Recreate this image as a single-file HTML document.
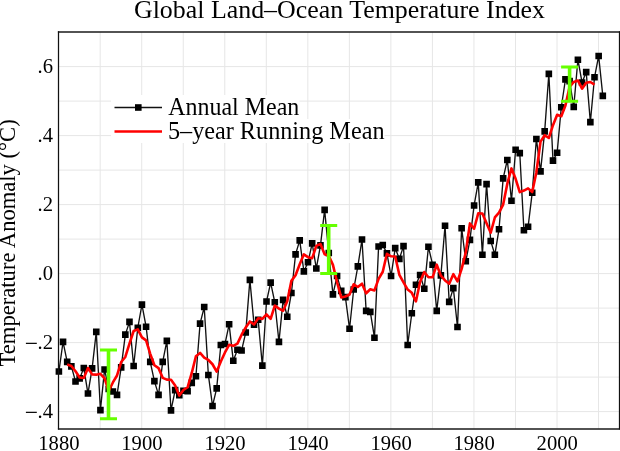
<!DOCTYPE html>
<html><head><meta charset="utf-8"><style>
html,body{margin:0;padding:0;background:#fff;width:620px;height:451px;overflow:hidden}
svg{display:block;will-change:transform}
text{font-family:"Liberation Serif",serif;fill:#000}
</style></head><body>
<svg width="620" height="451" viewBox="0 0 620 451">
<rect width="620" height="451" fill="#fff"/>
<path d="M100.18 32.0V428.8M141.71 32.0V428.8M183.24 32.0V428.8M224.77 32.0V428.8M266.30 32.0V428.8M307.83 32.0V428.8M349.36 32.0V428.8M390.89 32.0V428.8M432.42 32.0V428.8M473.95 32.0V428.8M515.48 32.0V428.8M557.01 32.0V428.8M598.54 32.0V428.8M58.6 411.60H619.3M58.6 377.10H619.3M58.6 342.60H619.3M58.6 308.10H619.3M58.6 273.60H619.3M58.6 239.10H619.3M58.6 204.60H619.3M58.6 170.10H619.3M58.6 135.60H619.3M58.6 101.10H619.3M58.6 66.60H619.3" stroke="#e6e6e6" stroke-width="1" fill="none"/>
<rect x="111" y="95" width="188.5" height="24" fill="#fff"/>
<rect x="111" y="119" width="273.5" height="24" fill="#fff"/>
<polyline points="58.90,371.49 63.05,341.87 67.20,361.85 71.36,366.33 75.51,381.48 79.66,378.38 83.81,368.05 87.96,393.54 92.12,368.39 96.27,331.88 100.42,410.08 104.57,369.43 108.72,389.06 112.88,391.47 117.03,394.92 121.18,367.36 125.33,334.63 129.48,321.89 133.64,365.98 137.79,327.74 141.94,304.66 146.09,326.71 150.24,361.85 154.40,381.14 158.55,394.92 162.70,361.85 166.85,340.83 171.00,410.42 175.16,390.10 179.31,395.26 183.46,390.79 187.61,391.13 191.76,382.86 195.92,376.32 200.07,323.61 204.22,307.07 208.37,374.94 212.52,405.94 216.68,388.37 220.83,344.97 224.98,343.93 229.13,324.30 233.28,360.81 237.44,349.79 241.59,350.48 245.74,332.56 249.89,279.86 254.04,324.64 258.20,319.82 262.35,365.64 266.50,301.56 270.65,282.61 274.80,302.25 278.96,341.87 283.11,299.84 287.26,316.72 291.41,292.95 295.56,254.36 299.72,240.41 303.87,271.42 308.02,262.29 312.17,243.34 316.32,268.49 320.48,245.41 324.63,209.92 328.78,252.99 332.93,294.33 337.08,276.07 341.24,290.88 345.39,297.08 349.54,328.78 353.69,289.50 357.84,266.42 362.00,239.55 366.15,310.86 370.30,311.89 374.45,337.73 378.60,246.44 382.76,245.06 386.91,253.33 391.06,276.07 395.21,248.16 399.36,258.84 403.52,246.10 407.67,344.97 411.82,313.27 415.97,284.68 420.12,275.03 424.28,288.81 428.43,246.78 432.58,264.70 436.73,310.86 440.88,275.38 445.04,225.77 449.19,301.90 453.34,288.12 457.49,327.05 461.64,228.18 465.80,261.25 469.95,239.89 474.10,205.44 478.25,182.36 482.40,254.71 486.56,184.09 490.71,240.93 494.86,254.71 499.01,229.22 503.16,178.40 507.32,159.97 511.47,200.79 515.62,149.81 519.77,153.08 523.92,230.25 528.08,226.80 532.23,192.70 536.38,138.96 540.53,171.34 544.68,131.38 548.84,73.85 552.99,160.66 557.14,152.74 561.29,107.26 565.44,79.36 569.60,81.08 573.75,106.92 577.90,59.72 582.05,82.46 586.20,72.12 590.36,122.08 594.51,77.29 598.66,55.93 602.81,95.89" fill="none" stroke="#111" stroke-width="1.35" stroke-linejoin="miter"/>
<path d="M55.60 368.19h6.6v6.6h-6.6zM59.75 338.57h6.6v6.6h-6.6zM63.90 358.55h6.6v6.6h-6.6zM68.06 363.03h6.6v6.6h-6.6zM72.21 378.18h6.6v6.6h-6.6zM76.36 375.08h6.6v6.6h-6.6zM80.51 364.75h6.6v6.6h-6.6zM84.66 390.24h6.6v6.6h-6.6zM88.82 365.09h6.6v6.6h-6.6zM92.97 328.58h6.6v6.6h-6.6zM97.12 406.78h6.6v6.6h-6.6zM101.27 366.13h6.6v6.6h-6.6zM105.42 385.76h6.6v6.6h-6.6zM109.58 388.17h6.6v6.6h-6.6zM113.73 391.62h6.6v6.6h-6.6zM117.88 364.06h6.6v6.6h-6.6zM122.03 331.33h6.6v6.6h-6.6zM126.18 318.59h6.6v6.6h-6.6zM130.34 362.68h6.6v6.6h-6.6zM134.49 324.44h6.6v6.6h-6.6zM138.64 301.36h6.6v6.6h-6.6zM142.79 323.41h6.6v6.6h-6.6zM146.94 358.55h6.6v6.6h-6.6zM151.10 377.84h6.6v6.6h-6.6zM155.25 391.62h6.6v6.6h-6.6zM159.40 358.55h6.6v6.6h-6.6zM163.55 337.53h6.6v6.6h-6.6zM167.70 407.12h6.6v6.6h-6.6zM171.86 386.80h6.6v6.6h-6.6zM176.01 391.96h6.6v6.6h-6.6zM180.16 387.49h6.6v6.6h-6.6zM184.31 387.83h6.6v6.6h-6.6zM188.46 379.56h6.6v6.6h-6.6zM192.62 373.02h6.6v6.6h-6.6zM196.77 320.31h6.6v6.6h-6.6zM200.92 303.77h6.6v6.6h-6.6zM205.07 371.64h6.6v6.6h-6.6zM209.22 402.64h6.6v6.6h-6.6zM213.38 385.07h6.6v6.6h-6.6zM217.53 341.67h6.6v6.6h-6.6zM221.68 340.63h6.6v6.6h-6.6zM225.83 321.00h6.6v6.6h-6.6zM229.98 357.51h6.6v6.6h-6.6zM234.14 346.49h6.6v6.6h-6.6zM238.29 347.18h6.6v6.6h-6.6zM242.44 329.26h6.6v6.6h-6.6zM246.59 276.56h6.6v6.6h-6.6zM250.74 321.34h6.6v6.6h-6.6zM254.90 316.52h6.6v6.6h-6.6zM259.05 362.34h6.6v6.6h-6.6zM263.20 298.26h6.6v6.6h-6.6zM267.35 279.31h6.6v6.6h-6.6zM271.50 298.95h6.6v6.6h-6.6zM275.66 338.57h6.6v6.6h-6.6zM279.81 296.54h6.6v6.6h-6.6zM283.96 313.42h6.6v6.6h-6.6zM288.11 289.65h6.6v6.6h-6.6zM292.26 251.06h6.6v6.6h-6.6zM296.42 237.11h6.6v6.6h-6.6zM300.57 268.12h6.6v6.6h-6.6zM304.72 258.99h6.6v6.6h-6.6zM308.87 240.04h6.6v6.6h-6.6zM313.02 265.19h6.6v6.6h-6.6zM317.18 242.11h6.6v6.6h-6.6zM321.33 206.62h6.6v6.6h-6.6zM325.48 249.69h6.6v6.6h-6.6zM329.63 291.03h6.6v6.6h-6.6zM333.78 272.77h6.6v6.6h-6.6zM337.94 287.58h6.6v6.6h-6.6zM342.09 293.78h6.6v6.6h-6.6zM346.24 325.48h6.6v6.6h-6.6zM350.39 286.20h6.6v6.6h-6.6zM354.54 263.12h6.6v6.6h-6.6zM358.70 236.25h6.6v6.6h-6.6zM362.85 307.56h6.6v6.6h-6.6zM367.00 308.59h6.6v6.6h-6.6zM371.15 334.43h6.6v6.6h-6.6zM375.30 243.14h6.6v6.6h-6.6zM379.46 241.76h6.6v6.6h-6.6zM383.61 250.03h6.6v6.6h-6.6zM387.76 272.77h6.6v6.6h-6.6zM391.91 244.86h6.6v6.6h-6.6zM396.06 255.54h6.6v6.6h-6.6zM400.22 242.80h6.6v6.6h-6.6zM404.37 341.67h6.6v6.6h-6.6zM408.52 309.97h6.6v6.6h-6.6zM412.67 281.38h6.6v6.6h-6.6zM416.82 271.73h6.6v6.6h-6.6zM420.98 285.51h6.6v6.6h-6.6zM425.13 243.48h6.6v6.6h-6.6zM429.28 261.40h6.6v6.6h-6.6zM433.43 307.56h6.6v6.6h-6.6zM437.58 272.08h6.6v6.6h-6.6zM441.74 222.47h6.6v6.6h-6.6zM445.89 298.60h6.6v6.6h-6.6zM450.04 284.82h6.6v6.6h-6.6zM454.19 323.75h6.6v6.6h-6.6zM458.34 224.88h6.6v6.6h-6.6zM462.50 257.95h6.6v6.6h-6.6zM466.65 236.59h6.6v6.6h-6.6zM470.80 202.14h6.6v6.6h-6.6zM474.95 179.06h6.6v6.6h-6.6zM479.10 251.41h6.6v6.6h-6.6zM483.26 180.79h6.6v6.6h-6.6zM487.41 237.63h6.6v6.6h-6.6zM491.56 251.41h6.6v6.6h-6.6zM495.71 225.91h6.6v6.6h-6.6zM499.86 175.10h6.6v6.6h-6.6zM504.02 156.67h6.6v6.6h-6.6zM508.17 197.49h6.6v6.6h-6.6zM512.32 146.51h6.6v6.6h-6.6zM516.47 149.78h6.6v6.6h-6.6zM520.62 226.95h6.6v6.6h-6.6zM524.78 223.50h6.6v6.6h-6.6zM528.93 189.40h6.6v6.6h-6.6zM533.08 135.66h6.6v6.6h-6.6zM537.23 168.04h6.6v6.6h-6.6zM541.38 128.08h6.6v6.6h-6.6zM545.54 70.55h6.6v6.6h-6.6zM549.69 157.36h6.6v6.6h-6.6zM553.84 149.44h6.6v6.6h-6.6zM557.99 103.96h6.6v6.6h-6.6zM562.14 76.06h6.6v6.6h-6.6zM566.30 77.78h6.6v6.6h-6.6zM570.45 103.62h6.6v6.6h-6.6zM574.60 56.42h6.6v6.6h-6.6zM578.75 79.16h6.6v6.6h-6.6zM582.90 68.82h6.6v6.6h-6.6zM587.06 118.78h6.6v6.6h-6.6zM591.21 73.99h6.6v6.6h-6.6zM595.36 52.63h6.6v6.6h-6.6zM599.51 92.59h6.6v6.6h-6.6z" fill="#000"/>
<polyline points="67.20,364.60 71.36,365.98 75.51,371.22 79.66,377.56 83.81,377.97 87.96,368.05 92.12,374.39 96.27,374.66 100.42,373.77 104.57,378.38 108.72,390.99 112.88,382.45 117.03,375.49 121.18,362.05 125.33,356.96 129.48,343.52 133.64,330.98 137.79,329.40 141.94,337.39 146.09,340.42 150.24,353.86 154.40,365.29 158.55,368.12 162.70,377.83 166.85,379.62 171.00,379.69 175.16,385.48 179.31,395.54 183.46,390.03 187.61,387.27 191.76,372.94 195.92,356.20 200.07,352.96 204.22,357.58 208.37,359.99 212.52,364.26 216.68,371.63 220.83,361.50 224.98,352.48 229.13,344.76 233.28,345.86 237.44,343.59 241.59,334.70 245.74,327.47 249.89,321.47 254.04,324.50 258.20,318.30 262.35,318.85 266.50,314.38 270.65,318.79 274.80,305.63 278.96,308.66 283.11,310.72 287.26,301.15 291.41,280.86 295.56,275.17 299.72,264.29 303.87,254.36 308.02,257.19 312.17,258.19 316.32,245.89 320.48,244.03 324.63,254.23 328.78,255.74 332.93,264.84 337.08,282.27 341.24,297.43 345.39,296.46 349.54,294.53 353.69,284.27 357.84,287.02 362.00,283.65 366.15,293.29 370.30,289.30 374.45,290.40 378.60,278.89 382.76,271.73 386.91,253.81 391.06,256.29 395.21,256.50 399.36,274.83 403.52,282.27 407.67,289.57 411.82,292.81 415.97,301.35 420.12,281.72 424.28,272.00 428.43,277.24 432.58,277.31 436.73,264.70 440.88,275.72 445.04,280.41 449.19,283.65 453.34,274.21 457.49,281.30 461.64,268.90 465.80,252.37 469.95,223.43 474.10,228.73 478.25,213.30 482.40,213.51 486.56,223.36 490.71,232.73 494.86,217.47 499.01,212.64 503.16,204.62 507.32,183.64 511.47,168.41 515.62,178.78 519.77,192.15 523.92,190.53 528.08,188.36 532.23,192.01 536.38,172.23 540.53,141.64 544.68,135.24 548.84,137.99 552.99,125.18 557.14,114.77 561.29,116.22 565.44,105.47 569.60,86.87 573.75,81.91 577.90,80.46 582.05,88.66 586.20,82.73 590.36,81.98 594.51,84.66" fill="none" stroke="#f00" stroke-width="2.6" stroke-linejoin="round"/>
<path d="M108.50 350V418.8" stroke="#66ff00" stroke-width="3.6" fill="none"/><path d="M100.00 350H117.00M100.00 418.8H117.00" stroke="#66ff00" stroke-width="3.0" fill="none"/>
<path d="M328.70 225.5V273.4" stroke="#66ff00" stroke-width="3.6" fill="none"/><path d="M320.20 225.5H337.20M320.20 273.4H337.20" stroke="#66ff00" stroke-width="3.0" fill="none"/>
<path d="M569.60 67V101.2" stroke="#66ff00" stroke-width="3.6" fill="none"/><path d="M561.10 67H578.10M561.10 101.2H578.10" stroke="#66ff00" stroke-width="3.0" fill="none"/>
<path d="M57.9 32H620" stroke="#1a1a1a" stroke-width="1.3" fill="none"/>
<path d="M57.9 429H620" stroke="#1a1a1a" stroke-width="1.3" fill="none"/>
<path d="M58.5 31.3V429.6" stroke="#111" stroke-width="1.25" fill="none"/>
<path d="M619.5 31.3V429.6" stroke="#111" stroke-width="1.25" fill="none"/>
<path d="M114.5 107.5H162" stroke="#111" stroke-width="1.35"/>
<rect x="135.0" y="104.2" width="6.6" height="6.6" fill="#000"/>
<path d="M114.5 131.5H162" stroke="#f00" stroke-width="2.6"/>
<text transform="translate(168.2 115) scale(0.959 1)" font-size="25.0" font-family="Liberation Serif, serif">Annual Mean</text>
<text transform="translate(167.9 139) scale(0.9695 1)" font-size="25.0" font-family="Liberation Serif, serif">5–year Running Mean</text>
<text x="339.5" y="18" font-size="25.9" text-anchor="middle" font-family="Liberation Serif, serif">Global Land–Ocean Temperature Index</text>
<text x="53" y="73.4" font-size="20.6" text-anchor="end" font-family="Liberation Serif, serif">.6</text>
<text x="53" y="142.4" font-size="20.6" text-anchor="end" font-family="Liberation Serif, serif">.4</text>
<text x="53" y="211.4" font-size="20.6" text-anchor="end" font-family="Liberation Serif, serif">.2</text>
<text x="53" y="280.4" font-size="20.6" text-anchor="end" font-family="Liberation Serif, serif">.0</text>
<text x="53" y="349.4" font-size="20.6" text-anchor="end" font-family="Liberation Serif, serif">.2</text>
<rect x="25.9" y="342.75" width="10.9" height="1.2" fill="#000"/>
<text x="53" y="418.4" font-size="20.6" text-anchor="end" font-family="Liberation Serif, serif">.4</text>
<rect x="25.9" y="411.75" width="10.9" height="1.2" fill="#000"/>
<text x="58.9" y="449.6" font-size="20.6" text-anchor="middle" font-family="Liberation Serif, serif">1880</text>
<text x="141.9" y="449.6" font-size="20.6" text-anchor="middle" font-family="Liberation Serif, serif">1900</text>
<text x="225.0" y="449.6" font-size="20.6" text-anchor="middle" font-family="Liberation Serif, serif">1920</text>
<text x="308.0" y="449.6" font-size="20.6" text-anchor="middle" font-family="Liberation Serif, serif">1940</text>
<text x="391.1" y="449.6" font-size="20.6" text-anchor="middle" font-family="Liberation Serif, serif">1960</text>
<text x="474.1" y="449.6" font-size="20.6" text-anchor="middle" font-family="Liberation Serif, serif">1980</text>
<text x="557.2" y="449.6" font-size="20.6" text-anchor="middle" font-family="Liberation Serif, serif">2000</text>
<text transform="translate(14.6 366.4) rotate(-90)" x="0" y="0" font-size="22.6" font-family="Liberation Serif, serif">Temperature Anomaly (°C)</text>
</svg>
</body></html>
